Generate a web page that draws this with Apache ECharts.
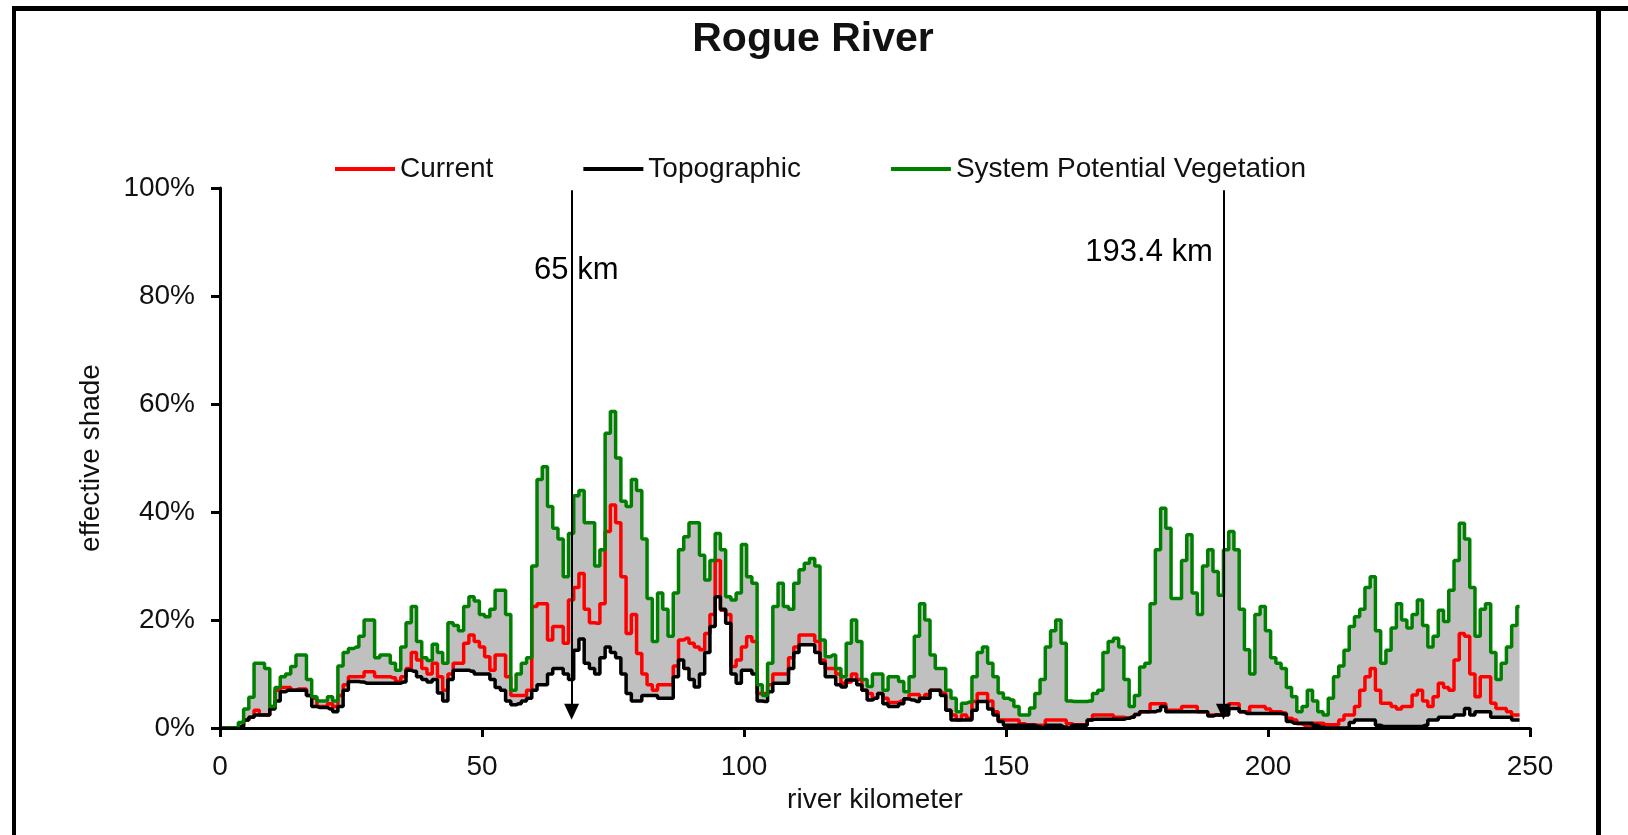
<!DOCTYPE html>
<html>
<head>
<meta charset="utf-8">
<script src="https://cdn.jsdelivr.net/npm/echarts@6/dist/echarts.min.js"></script>
<style>
html,body{margin:0;padding:0;background:#fff;}
#chart{width:1628px;height:835px;}
</style>
</head>
<body>
<div id="chart"></div>
<script>
// ---- data (effective shade, %, sampled every river kilometer from km 0) ----
const TITLE = 'Rogue River';
const SERIES_NAMES = ['Current', 'Topographic', 'System Potential Vegetation'];
const X_TICKS = [0, 50, 100, 150, 200, 250];
const Y_TICKS = [0, 20, 40, 60, 80, 100];

const CURRENT = [
0,0,0,0,0.3,1.5,2,3.3,2.4,2.4,
4,7,7.5,7.5,7,7.2,7.2,6,5.5,4,
4,4.5,4,6,8,9.5,9.5,9.5,10.4,10.4,
9.5,9.5,9.5,9.3,8.6,9.5,11,14,12.6,11,
10,12,9.5,7,10,12,12,15.7,17.2,16,
15,13.2,10.7,13.5,13.5,9.5,6,6,6,7,
22.5,23,23,16.3,18.8,18.8,15.7,23.7,26,28.6,
22,19.5,19.4,23,36.4,41.3,38,28,17.5,21,
13.8,10,8,7,8,8,8,11.5,16.3,16.6,
15.7,15,14.5,17.5,21,31,21.8,21,11.4,12.6,
15,16.9,16,6.4,6.4,8,10,10,10,13,
15,17.2,17.2,17.2,16,12.6,11,11,10,8.3,
8.5,10,9,7,6.4,5.5,6.4,5.5,4.7,4.7,
5,5.4,6.2,6.2,5.5,6.2,7,7,6.5,3.3,
2.4,1.5,2.4,1.8,4.9,6.4,6.4,5,3,1.5,
1.5,1.5,1.5,0.8,0.6,0.6,0.5,0.5,1.5,1.5,
1.5,1.5,0.8,0.6,0.6,0.6,1.5,2.4,2.4,2.4,
2.4,2,2,1.8,2,2.5,3,3,4.5,4.5,
4.5,3.3,3.3,3.3,4,4,4,3,3,2.4,
2.4,2.4,3,4.5,4.5,3,3,4,4,4,
3.5,3,3,2.8,1.8,1.5,0.8,0.5,0.5,0.9,
0.9,0.6,0.6,0.6,1.5,2.4,2.4,4,7,9.5,
11,7,4.6,4.6,4,3.5,4,4,6.1,7,
5,4,5.8,8.3,7.5,7,12.6,17.5,17,10,
5.8,9.5,9.5,4.6,3.6,3.6,3,2.4,2.4
];

const TOPOGRAPHIC = [
0,0,0,0,0.3,1.5,2,2.4,2.4,2.4,
3.5,5,6.7,7,7,7,7,6,4,3.8,
3.8,3.5,3,4,7,8.6,8.6,8.5,8.3,8.3,
8.3,8.3,8.3,8.3,8.3,8.5,10.7,10.5,9.5,9,
8.5,9,6.5,5,9,10.7,10.7,10.7,10.5,10,
10,10,9,7.5,7,5,4.3,4.5,5,5.5,
7,8,8,10,11,11,10,9,14.4,16.5,
12,11,10,13,15,14,13,10,6.4,5,
5,6,6,6,5.5,5.5,5.5,9.5,12.6,11,
9,7.6,10,14,18.8,24.3,22,19.4,10,8.3,
10.7,10.7,10,5,4.9,6.7,8.3,8.3,8.3,11,
14,15.4,15.4,15.4,14,12,9.5,9.5,8,7.6,
8.9,8.9,8,7,5.2,5.5,6.4,4.5,4,4,
4.5,5.4,5.2,4.9,5.5,5.5,7,7,6,3.3,
1.5,1.5,1.5,1.5,3.3,4.9,4.9,3.5,2.4,1.2,
0.5,0.5,0.5,0.5,0.5,0.5,0.3,0,0.5,0.5,
0.5,0.2,0,0.5,0.5,0.5,1.5,1.6,1.6,1.6,
1.6,1.6,1.6,1.8,2,2.5,3,3,3,3.2,
4,3,3,3,3,3,3,3,3,2.2,
2.4,2.4,2.4,3.6,3.6,3,2.7,2.7,2.7,2.7,
2.7,2.7,2.7,2.6,1.2,0.9,0.9,0.9,0.9,0.5,
0.2,0,0,0,0,0,1,1.5,1.5,1.5,
1.5,0.5,0.3,0.3,0.3,0.3,0.3,0.3,0.3,0.3,
0.5,1.5,1.5,2,2,2,2.4,2.4,3.6,2.4,
3,3,3,2,2,2,2,1.5,1.5
];

const SYSTEM_POTENTIAL = [
0,0,0,0,1,3.5,5.7,12,12,11,
4,7.5,9.5,10,11.4,13.5,13.5,9,5.8,5,
5,5.8,5,11.5,14,14.7,15,17,20,20,
13,13.5,13.5,12,10.7,15,19.5,22.5,16,13,
12.5,15.5,14,12,19.5,19,18,22.5,24.3,23.5,
21,20.6,22,25.5,25.5,21,7,10,12,13,
30,46,48.4,41,37,35,28,36,43,44,
38,38,30,33,54.6,58.6,50,42,41,46,
44,35,24,16,25,22,17,25,33,35.4,
38,38,32,27.4,31,36,33,24.3,23.7,25,
34,28,26.8,8,6,12,22.5,26.8,22.5,22,
26.8,29.3,30.5,31.4,30,16.3,13.2,13.5,11,9.5,
15.7,20,16,9,7.7,10,10,7,9.5,9.5,
8.6,6.7,9.5,17,23,20,13.5,11,11,7,
5.5,3,4.6,4.8,9.5,14,15,12,9.5,6.5,
5.5,5.2,4,2.4,2.4,3.7,6.4,9,15,18,
20,15.7,5,4.9,4.9,4.9,5,6.4,7,14,
16,16.6,15,9,4,6,11.3,12,23,33,
40.7,37,24,24,31,35.8,25,21,30,33,
29,24.6,33,36.4,33,22,14.5,10,21,22.5,
18,13,12,11,7.5,5.8,3,4,7,5,
3,2.4,5.5,9.5,11.5,14.4,18.8,20.6,22,26,
28,18,12,14.4,18.5,23,20,18.5,21,23.7,
19,15,17,21.8,19.7,25.5,31,37.9,35,26,
17,22,23,14,9,12,15,19,22.5
];

// annotations: [label, river km of arrow, label anchor km, label anchor %]
const MARKERS = [
  { label: '65 km', km: 67.1, textKm: 68.0, textPct: 84.8 },
  { label: '193.4 km', km: 191.5, textKm: 177.3, textPct: 88.0 }
];

// ---- build ----
const KM = CURRENT.map((_, i) => i);
const pairs = arr => arr.map((v, i) => [KM[i], v]);
const FONT = '"Liberation Sans", Arial, sans-serif';
const TXT = '#111';

const chart = echarts.init(document.getElementById('chart'), null, { renderer: 'canvas' });

const option = {
  animation: false,
  backgroundColor: '#fff',
  title: {
    text: TITLE,
    left: 808,
    top: 14,
    textAlign: 'center',
    textStyle: { fontFamily: FONT, fontSize: 41, fontWeight: 'bold', color: TXT }
  },
  legend: {
    data: SERIES_NAMES,
    left: 330,
    top: 150,
    icon: 'rect',
    itemWidth: 60,
    itemHeight: 4,
    itemGap: 90,
    textStyle: { fontFamily: FONT, fontSize: 28, color: TXT }
  },
  grid: { left: 220, right: 98, top: 188, bottom: 107, containLabel: false },
  xAxis: {
    type: 'value',
    min: X_TICKS[0],
    max: X_TICKS[X_TICKS.length - 1],
    interval: X_TICKS[1] - X_TICKS[0],
    z: 5,
    name: 'river kilometer',
    nameLocation: 'middle',
    nameGap: 57,
    nameTextStyle: { fontFamily: FONT, fontSize: 28, color: TXT },
    axisLine: { show: true, onZero: false, lineStyle: { color: '#000', width: 3 } },
    axisTick: { show: true, inside: false, length: 9, lineStyle: { color: '#000', width: 3 } },
    axisLabel: { fontFamily: FONT, fontSize: 28, color: TXT, margin: 25 },
    splitLine: { show: false }
  },
  yAxis: {
    type: 'value',
    min: Y_TICKS[0],
    max: Y_TICKS[Y_TICKS.length - 1],
    interval: Y_TICKS[1] - Y_TICKS[0],
    z: 5,
    name: 'effective shade',
    nameLocation: 'middle',
    nameGap: 115,
    nameTextStyle: { fontFamily: FONT, fontSize: 28, color: TXT },
    axisLine: { show: true, lineStyle: { color: '#000', width: 3 } },
    axisTick: { show: true, inside: false, length: 9, lineStyle: { color: '#000', width: 3 } },
    axisLabel: { fontFamily: FONT, fontSize: 28, color: TXT, margin: 25, formatter: '{value}%' },
    splitLine: { show: false }
  },
  graphic: [
    { type: 'rect', shape: { x: 12, y: 6, width: 1616, height: 5 }, style: { fill: '#000' }, z: 100 },
    { type: 'rect', shape: { x: 12, y: 6, width: 4, height: 829 }, style: { fill: '#000' }, z: 100 },
    { type: 'rect', shape: { x: 1596, y: 6, width: 5, height: 829 }, style: { fill: '#000' }, z: 100 }
  ],
  series: [
    {
      name: 'spvFill', type: 'line', step: 'middle', data: pairs(SYSTEM_POTENTIAL),
      showSymbol: false, symbol: 'none', lineStyle: { width: 0 },
      areaStyle: { color: '#c0c0c0', opacity: 1 }, silent: true, z: 1
    },
    {
      name: 'topoFill', type: 'line', step: 'middle', data: pairs(TOPOGRAPHIC),
      showSymbol: false, symbol: 'none', lineStyle: { width: 0 },
      areaStyle: { color: '#ffffff', opacity: 1 }, silent: true, z: 1
    },
    {
      name: SERIES_NAMES[0], type: 'line', step: 'middle', data: pairs(CURRENT),
      showSymbol: false, symbol: 'none', color: '#ff0000',
      lineStyle: { color: '#ff0000', width: 3.5 }, z: 2
    },
    {
      name: SERIES_NAMES[1], type: 'line', step: 'middle', data: pairs(TOPOGRAPHIC),
      showSymbol: false, symbol: 'none', color: '#000000',
      lineStyle: { color: '#000000', width: 3.5 }, z: 3
    },
    {
      name: SERIES_NAMES[2], type: 'line', step: 'middle', data: pairs(SYSTEM_POTENTIAL),
      showSymbol: false, symbol: 'none', color: '#008000',
      lineStyle: { color: '#008000', width: 3.5 }, z: 4,
      markLine: {
        silent: true,
        symbol: ['none', 'triangle'],
        symbolSize: [15, 16],
        lineStyle: { color: '#000', width: 2, type: 'solid' },
        label: { show: false },
        data: MARKERS.map(m => [{ coord: [m.km, 99.6] }, { coord: [m.km, 3.0] }])
      },
      markPoint: {
        silent: true,
        symbol: 'rect',
        symbolSize: 1,
        itemStyle: { color: 'rgba(0,0,0,0)' },
        label: {
          show: true, position: 'inside', formatter: p => p.name,
          fontFamily: FONT, fontSize: 31, color: '#000'
        },
        data: MARKERS.map(m => ({ name: m.label, coord: [m.textKm, m.textPct] }))
      }
    }
  ]
};
chart.setOption(option);
</script>
</body>
</html>
